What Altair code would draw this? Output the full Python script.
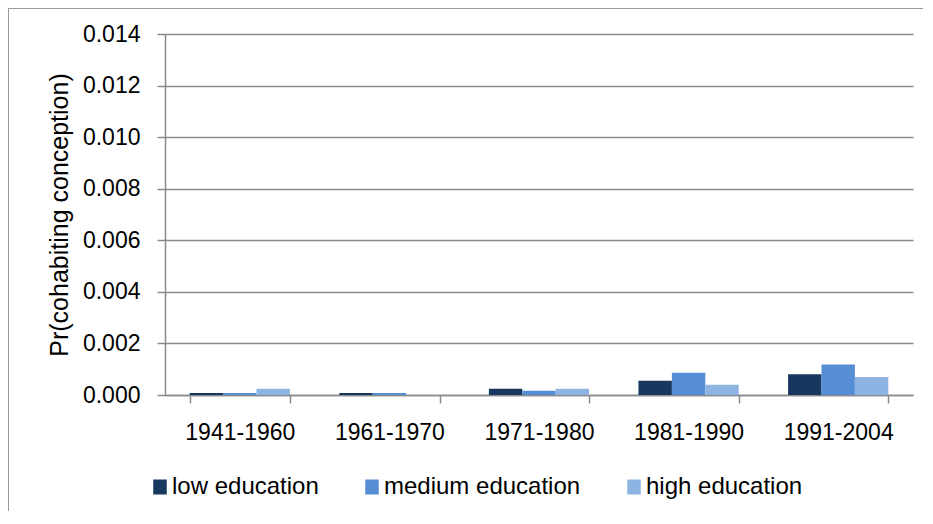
import altair as alt
import pandas as pd

periods = ["1941-1960", "1961-1970", "1971-1980", "1981-1990", "1991-2004"]
series = ["low education", "medium education", "high education"]
low = [0.00008, 0.00008, 0.00024, 0.00055, 0.00080]
medium = [0.00008, 0.00008, 0.00016, 0.00086, 0.00118]
high = [0.00024, 0.00000, 0.00024, 0.00040, 0.00070]
colors = ["#17375E", "#558ED5", "#8EB4E3"]
y_ticks = [0.000, 0.002, 0.004, 0.006, 0.008, 0.010, 0.012, 0.014]

rows = []
for name, vals in zip(series, [low, medium, high]):
    for p, v in zip(periods, vals):
        rows.append({"period": p, "edu": name, "value": v})
df = pd.DataFrame(rows)

FONT = "Liberation Sans"
GRAY = "#8a8a8a"

bars = alt.Chart(df).mark_bar(strokeWidth=0).encode(
    x=alt.X("period:N", sort=periods, title=None,
            scale=alt.Scale(paddingInner=0.33, paddingOuter=0.165),
            axis=alt.Axis(tickBand="extent", labelAngle=0, grid=False,
                          labelFontSize=23, labelFont=FONT, labelColor="#000000",
                          tickSize=8, tickColor=GRAY, tickWidth=1.5,
                          domainColor=GRAY, domainWidth=1.5, labelPadding=18)),
    xOffset=alt.XOffset("edu:N", sort=series, scale=alt.Scale(domain=series, paddingInner=0, paddingOuter=0)),
    y=alt.Y("value:Q", title="Pr(cohabiting conception)",
            scale=alt.Scale(domain=[0, 0.014], nice=False),
            axis=alt.Axis(values=y_ticks, format=".3f", grid=True, gridColor=GRAY, gridWidth=1.5,
                          labelFontSize=23, labelFont=FONT, labelColor="#000000",
                          tickSize=8, tickColor=GRAY, tickWidth=1.5,
                          domainColor=GRAY, domainWidth=1.5, labelPadding=17,
                          titleFontSize=25, titleFont=FONT, titleFontWeight="normal",
                          titleColor="#000000", titlePadding=10)),
    color=alt.Color("edu:N", sort=series,
                    scale=alt.Scale(domain=series, range=colors),
                    legend=alt.Legend(title=None, orient="none", direction="horizontal",
                                      legendX=-17, legendY=441,
                                      symbolType="M-0.9,-1H0.9V1H-0.9Z", symbolSize=225,
                                      symbolStrokeWidth=0, symbolOpacity=1,
                                      labelFontSize=24, labelFont=FONT, labelColor="#000000",
                                      labelOffset=0, columnPadding=41, labelLimit=400)),
)

border_left = alt.Chart(df).mark_rule(color="#9a9a9a", strokeWidth=1).encode(
    x=alt.value(-156.5), y=alt.value(-25.5), y2=alt.value(500)
)
border_top = alt.Chart(df).mark_rule(color="#9a9a9a", strokeWidth=1).encode(
    x=alt.value(-156.5), x2=alt.value(800), y=alt.value(-25.5)
)

chart = alt.layer(border_left, border_top, bars).properties(
    width=748, height=361,
    autosize=alt.AutoSizeParams(type="none"),
    padding={"left": 157, "top": 26, "right": 10, "bottom": 116},
    background="white",
).configure_view(stroke=None)

chart.save("out.html", embed_options={"renderer": "svg", "actions": False})
